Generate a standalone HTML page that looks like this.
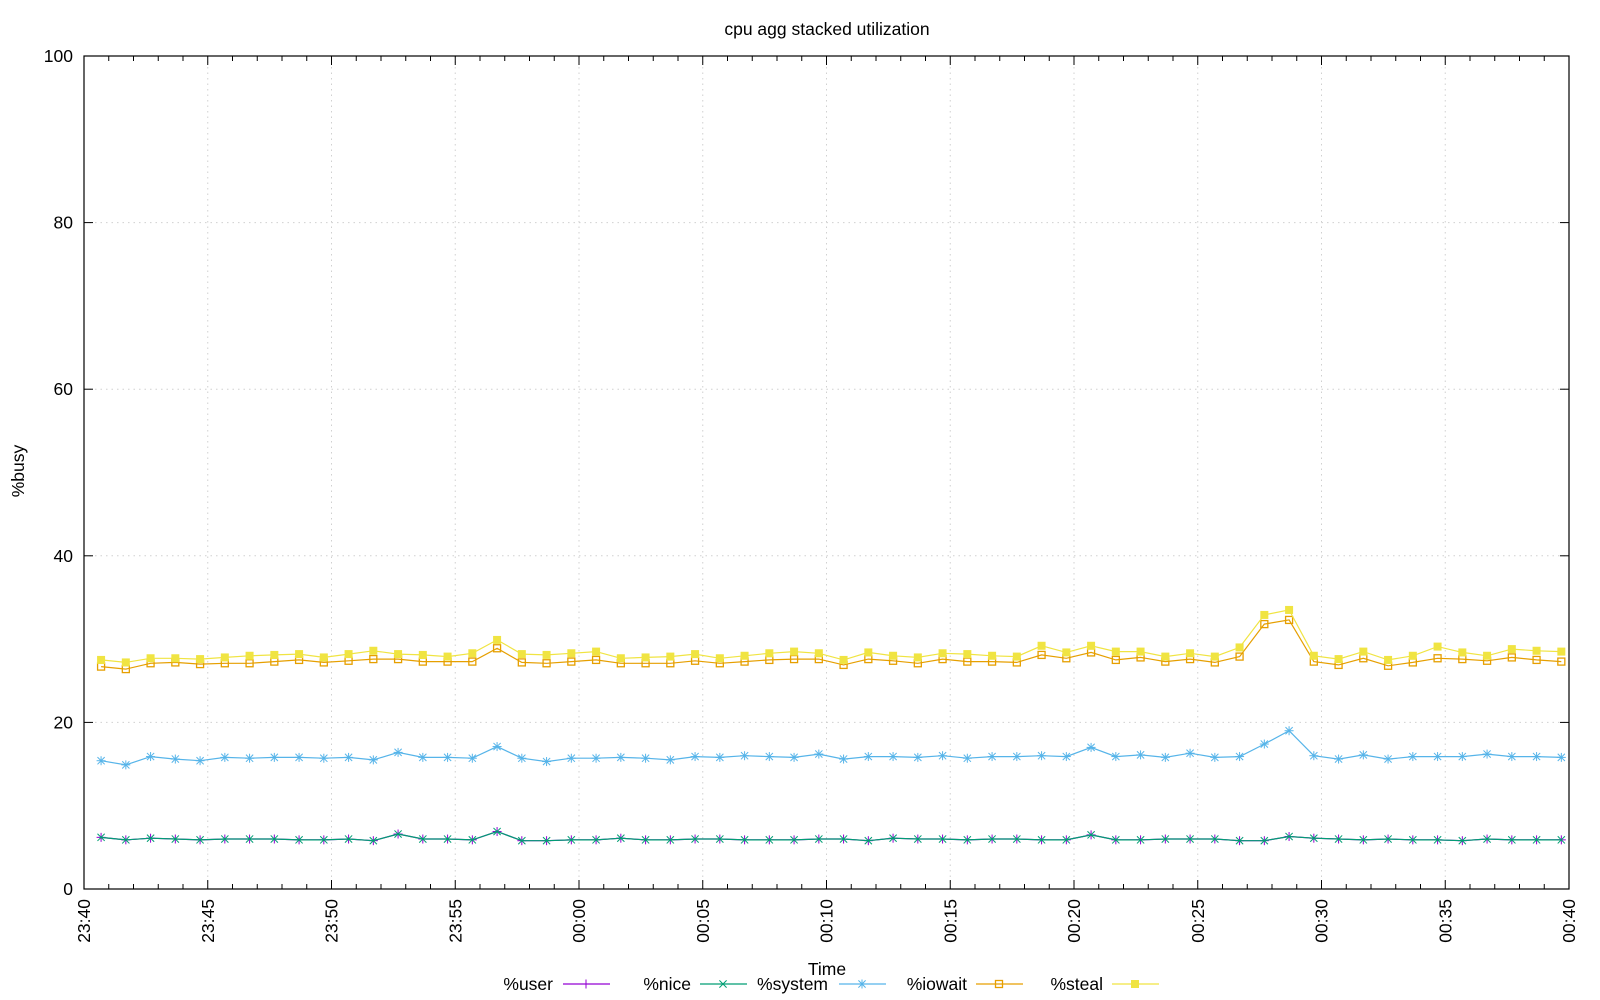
<!DOCTYPE html>
<html><head><meta charset="utf-8"><style>
html,body{margin:0;padding:0;background:#fff;}
svg{display:block;font-family:"Liberation Sans",sans-serif;}
</style></head><body>
<svg id="chart" width="1600" height="1000" viewBox="0 0 1600 1000" xmlns="http://www.w3.org/2000/svg">
<rect width="1600" height="1000" fill="#fff"/>
<text x="827" y="35" font-size="17.5" text-anchor="middle">cpu agg stacked utilization</text>
<g id="grid"></g>
<g id="axes"></g>
<g id="series"></g>
<text transform="translate(24,471) rotate(-90)" font-size="17.5" text-anchor="middle">%busy</text>
<text x="827" y="975" font-size="17.5" text-anchor="middle">Time</text>
<g id="legend"></g>
</svg>
<script>
// stacked (cumulative) values, one sample per minute starting 23:40:41
const startMinute = 0.69;
const userVals = [6.2,5.9,6.1,6.0,5.9,6.0,6.0,6.0,5.9,5.9,6.0,5.8,6.6,6.0,6.0,5.9,6.9,5.8,5.8,5.9,5.9,6.1,5.9,5.9,6.0,6.0,5.9,5.9,5.9,6.0,6.0,5.8,6.1,6.0,6.0,5.9,6.0,6.0,5.9,5.9,6.5,5.9,5.9,6.0,6.0,6.0,5.8,5.8,6.3,6.1,6.0,5.9,6.0,5.9,5.9,5.8,6.0,5.9,5.9,5.9];
const niceVals = userVals.slice();
const systemVals = [15.4,14.9,15.9,15.6,15.4,15.8,15.7,15.8,15.8,15.7,15.8,15.5,16.4,15.8,15.8,15.7,17.1,15.7,15.3,15.7,15.7,15.8,15.7,15.5,15.9,15.8,16.0,15.9,15.8,16.2,15.6,15.9,15.9,15.8,16.0,15.7,15.9,15.9,16.0,15.9,17.0,15.9,16.1,15.8,16.3,15.8,15.9,17.4,19.0,16.0,15.6,16.1,15.6,15.9,15.9,15.9,16.2,15.9,15.9,15.8];
const iowaitVals = [26.7,26.4,27.1,27.2,27.0,27.1,27.1,27.3,27.5,27.2,27.4,27.6,27.6,27.3,27.3,27.3,28.9,27.2,27.1,27.3,27.5,27.1,27.1,27.1,27.4,27.1,27.3,27.5,27.6,27.6,26.9,27.6,27.4,27.1,27.6,27.3,27.3,27.2,28.1,27.7,28.4,27.5,27.8,27.3,27.6,27.2,27.9,31.8,32.3,27.3,26.9,27.7,26.8,27.2,27.7,27.6,27.4,27.8,27.5,27.3];
const stealVals = [27.5,27.2,27.7,27.7,27.6,27.8,28.0,28.1,28.2,27.8,28.2,28.6,28.2,28.1,27.9,28.3,29.9,28.2,28.1,28.3,28.5,27.7,27.8,27.9,28.2,27.7,28.0,28.3,28.5,28.3,27.5,28.4,28.0,27.8,28.3,28.2,28.0,27.9,29.2,28.4,29.2,28.5,28.5,27.9,28.3,27.9,29.0,32.9,33.5,28.0,27.6,28.5,27.5,28.0,29.1,28.4,28.0,28.8,28.6,28.5];
const xTickLabels = ["23:40","23:45","23:50","23:55","00:00","00:05","00:10","00:15","00:20","00:25","00:30","00:35","00:40"];
const yTickLabels = ["0","20","40","60","80","100"];

const NS="http://www.w3.org/2000/svg";
const L=84,R=1569,T=56,B=889;
const xs=m=>L+(R-L)*m/60;
const ys=v=>B-(B-T)*v/100;
function mk(tag,attrs,parent){const e=document.createElementNS(NS,tag);for(const k in attrs)e.setAttribute(k,attrs[k]);parent.appendChild(e);return e;}
const grid=document.getElementById('grid'),axes=document.getElementById('axes'),series=document.getElementById('series'),legend=document.getElementById('legend');

xTickLabels.forEach((lab,i)=>{
  const x=xs(i*5);
  if(i>0&&i<12){const g=mk('line',{x1:x,x2:x,y1:T,y2:B,stroke:'#d0d0d0','stroke-dasharray':'1.5,4'},grid);
  
  }
  const t=mk('line',{x1:x,x2:x,y1:B,y2:B-9,stroke:'#000'},axes);
  
  
  const tt=mk('line',{x1:x,x2:x,y1:T,y2:T+9,stroke:'#000'},axes);
  
  
  const tx=mk('text',{transform:`translate(${x+6},${B+10}) rotate(-90)`,'font-size':'17.5','text-anchor':'end'},axes);
  tx.textContent=lab;
  
  
});
for(let m=0;m<=60;m++){if(m%5===0)continue;const x=xs(m);
  const t=mk('line',{x1:x,x2:x,y1:B,y2:B-5,stroke:'#000'},axes);
  
  
  const t2=mk('line',{x1:x,x2:x,y1:T,y2:T+5,stroke:'#000'},axes);
  
  }
yTickLabels.forEach((lab,i)=>{
  const v=+lab,y=ys(v);
  if(i>0&&i<5){const g=mk('line',{x1:L,x2:R,y1:y,y2:y,stroke:'#d0d0d0','stroke-dasharray':'1.5,4'},grid);
  
  }
  const t=mk('line',{x1:L,x2:L+9,y1:y,y2:y,stroke:'#000'},axes);
  
  
  const t2=mk('line',{x1:R,x2:R-9,y1:y,y2:y,stroke:'#000'},axes);
  
  
  const tx=mk('text',{x:L-11,y:y+6,'font-size':'17.5','text-anchor':'end'},axes);
  tx.textContent=lab;
  
  
});
const frame=mk('rect',{x:L,y:T,width:R-L,height:B-T,fill:'none',stroke:'#000','stroke-width':'1.2'},axes);



function marker(type,x,y,c,parent){
  const g=mk('g',{},parent);
  const s=4.5;
  if(type==='plus'||type==='star'){mk('line',{x1:x-s,x2:x+s,y1:y,y2:y,stroke:c},g);mk('line',{x1:x,x2:x,y1:y-s,y2:y+s,stroke:c},g);}
  if(type==='cross'||type==='star'){mk('line',{x1:x-s*0.8,x2:x+s*0.8,y1:y-s*0.8,y2:y+s*0.8,stroke:c},g);mk('line',{x1:x-s*0.8,x2:x+s*0.8,y1:y+s*0.8,y2:y-s*0.8,stroke:c},g);}
  if(type==='box')mk('rect',{x:x-3.5,y:y-3.5,width:7,height:7,fill:'none',stroke:c,'stroke-width':'1.3'},g);
  if(type==='fbox')mk('rect',{x:x-4,y:y-4,width:8,height:8,fill:c},g);
  return g;
}
const defs=[
 {name:'%user',vals:userVals,c:'#9400d3',m:'plus',lx:563,tx:553},
 {name:'%nice',vals:niceVals,c:'#009e73',m:'cross',lx:700,tx:691},
 {name:'%system',vals:systemVals,c:'#56b4e9',m:'star',lx:839,tx:828},
 {name:'%iowait',vals:iowaitVals,c:'#e69f00',m:'box',lx:976,tx:967},
 {name:'%steal',vals:stealVals,c:'#f0e442',m:'fbox',lx:1112,tx:1103}
];
defs.forEach(d=>{
  const key=d.name.slice(1);
  const g=mk('g',{},series);
  
  
  const pts=d.vals.map((v,i)=>xs(startMinute+i).toFixed(1)+','+ys(v).toFixed(1)).join(' ');
  const pl=mk('polyline',{points:pts,fill:'none',stroke:d.c,'stroke-width':'1.2'},g);
  
  
  d.vals.forEach((v,i)=>{const p=marker(d.m,xs(startMinute+i),ys(v),d.c,g);
    
    });
  const le=mk('g',{},legend);
  
  
  const t=mk('text',{x:d.tx,y:990,'font-size':'17.5','text-anchor':'end'},le);
  t.textContent=d.name;
  mk('line',{x1:d.lx,x2:d.lx+47,y1:984,y2:984,stroke:d.c,'stroke-width':'1.2'},le);
  marker(d.m,d.lx+23,984,d.c,le);
});
</script>
</body></html>
